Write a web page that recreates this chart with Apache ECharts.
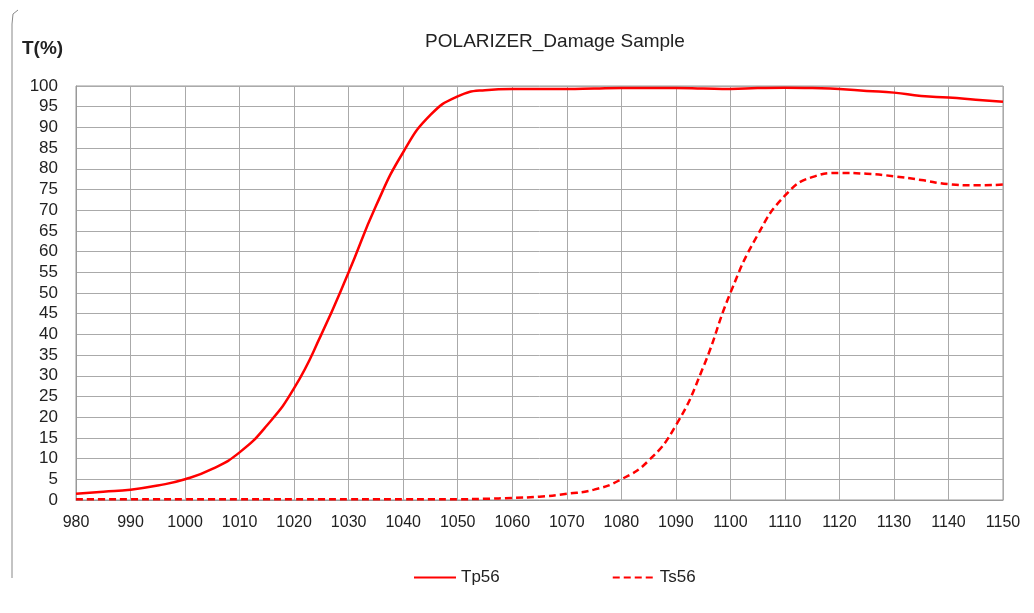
<!DOCTYPE html>
<html lang="en">
<head>
    <meta charset="UTF-8">
    <title>POLARIZER_Damage Sample</title>
    <script src="https://cdn.jsdelivr.net/npm/echarts@6/dist/echarts.min.js"></script>
</head>
<body style="margin: 0; background-color: #fff">
<div id="container" style="width: 1034px; height: 613px"></div>
<script type="text/javascript">
    // wavelength (nm)
    let wavelengths = [980, 985, 990, 995, 1000, 1005, 1010, 1015, 1020, 1025, 1030, 1035, 1040, 1045, 1050, 1055, 1060,
        1065, 1070, 1075, 1080, 1085, 1090, 1095, 1100, 1105, 1110, 1115, 1120, 1125, 1130, 1135, 1140, 1145, 1150];
    let tp56 = [1.5, 2.0, 2.5, 3.5, 5.0, 7.5, 11.5, 18, 27, 40, 55, 71, 84, 93, 97.5, 99.0, 99.3,
        99.3, 99.3, 99.4, 99.5, 99.5, 99.5, 99.4, 99.3, 99.5, 99.6, 99.5, 99.3, 98.8, 98.4, 97.6, 97.2, 96.7, 96.2];
    let ts56 = [0.2, 0.2, 0.2, 0.2, 0.2, 0.2, 0.2, 0.2, 0.2, 0.2, 0.2, 0.2, 0.2, 0.2, 0.2, 0.3, 0.5,
        0.8, 1.5, 2.5, 5.0, 9.5, 18, 32, 50, 64, 73.5, 78, 79, 78.8, 78.2, 77.3, 76.3, 76.0, 76.2];
    let xTicks = {min: 980, max: 1150, step: 10};
    let yTicks = {min: 0, max: 100, step: 5};

    function pairs(ys) {
        let out = [];
        for (let i = 0; i < wavelengths.length; i++) {
            out.push([wavelengths[i], ys[i]]);
        }
        return out;
    }

    let font = 'Liberation Sans, Arial, sans-serif';
    let myChart = echarts.init(document.getElementById('container'));
    let option = {
        animation: false,
        textStyle: {fontFamily: font},
        title: {
            text: 'POLARIZER_Damage Sample',
            left: 550,
            textAlign: 'center',
            top: 27,
            textStyle: {fontSize: 19, fontWeight: 'normal', color: '#222', fontFamily: font}
        },
        graphic: [
            {
                type: 'text',
                left: 22,
                top: 39,
                style: {text: 'T(%)', font: 'bold 19px ' + font, fill: '#222'}
            },
            {
                // frame edge on the left
                type: 'polyline',
                shape: {points: [[18, 10], [13, 14], [12, 24], [12, 578]]},
                style: {stroke: '#888', lineWidth: 1, fill: null},
                silent: true
            },
            {
                // plot border
                type: 'rect',
                shape: {x: 76, y: 86, width: 927, height: 414},
                style: {stroke: '#999', fill: null, lineWidth: 1},
                silent: true
            }
        ],
        legend: {
            bottom: 22,
            left: 408,
            itemWidth: 42,
            itemHeight: 12,
            itemGap: 112,
            itemStyle: {opacity: 0},
            textStyle: {fontSize: 17, color: '#222', fontFamily: font},
            data: ['Tp56', 'Ts56']
        },
        grid: {left: 76, right: 31, top: 86, bottom: 113},
        xAxis: {
            type: 'value',
            min: xTicks.min,
            max: xTicks.max,
            interval: xTicks.step,
            axisLine: {lineStyle: {color: '#999'}},
            axisTick: {show: false},
            axisLabel: {
                fontSize: 16, color: '#222', margin: 15, fontFamily: font,
                formatter: function (v) { return String(v); }
            },
            splitLine: {lineStyle: {color: '#aaa', width: 1}}
        },
        yAxis: {
            type: 'value',
            min: yTicks.min,
            max: yTicks.max,
            interval: yTicks.step,
            axisLine: {show: true, lineStyle: {color: '#999'}},
            axisTick: {show: false},
            axisLabel: {fontSize: 17, color: '#222', margin: 18, fontFamily: font},
            splitLine: {lineStyle: {color: '#aaa', width: 1}}
        },
        series: [
            {
                name: 'Tp56',
                type: 'line',
                smooth: true,
                symbol: 'none',
                color: '#ff0000',
                lineStyle: {width: 2.5, color: '#ff0000'},
                data: pairs(tp56)
            },
            {
                name: 'Ts56',
                type: 'line',
                smooth: true,
                symbol: 'none',
                color: '#ff0000',
                lineStyle: {width: 2.5, color: '#ff0000', type: [7, 4]},
                data: pairs(ts56)
            }
        ]
    };
    myChart.setOption(option);
</script>
</body>
</html>
